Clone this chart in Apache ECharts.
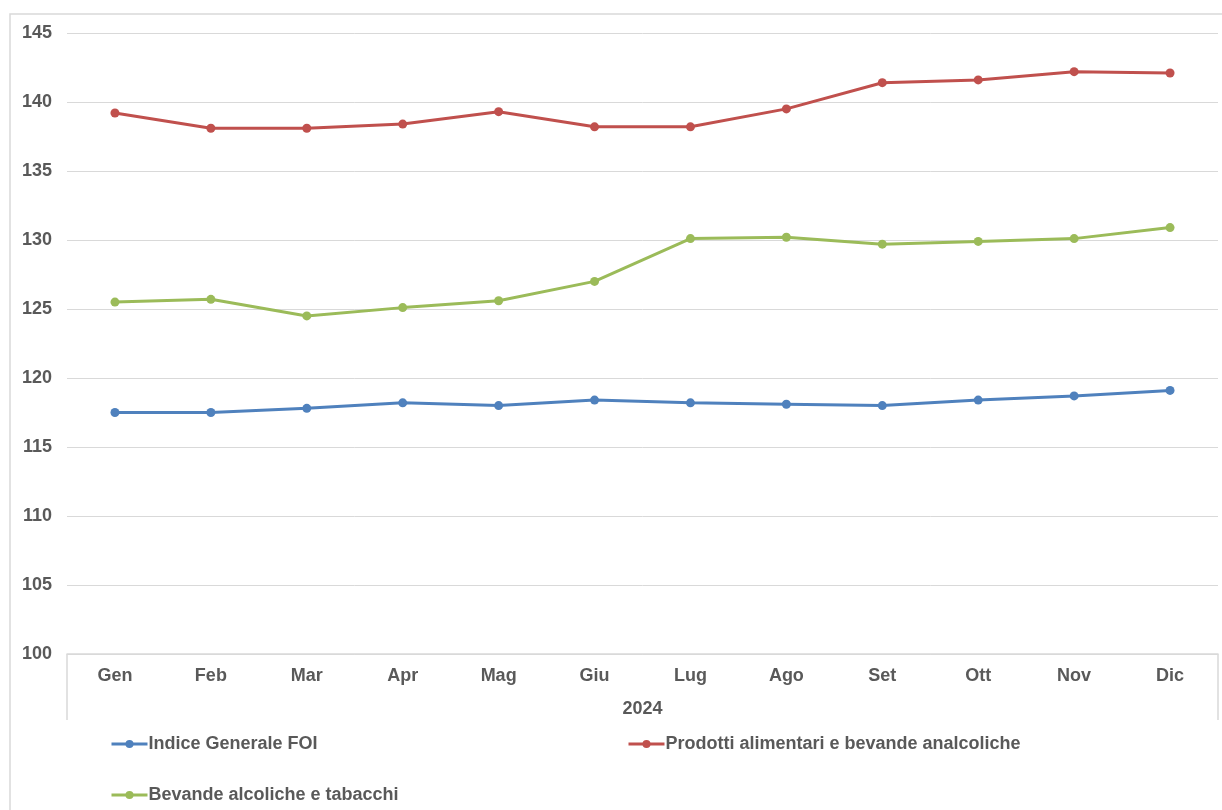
<!DOCTYPE html>
<html>
<head>
<meta charset="utf-8">
<script src="https://cdn.jsdelivr.net/npm/echarts@6/dist/echarts.min.js"></script>
<style>
  html, body { margin: 0; padding: 0; background: #fff; }
  #chart { width: 1222px; height: 810px; }
</style>
</head>
<body>
<div id="chart"></div>
<script>
// Indici FOI 2024 per mese: indice generale e due divisioni di spesa.
const MONTHS = ['Gen', 'Feb', 'Mar', 'Apr', 'Mag', 'Giu', 'Lug', 'Ago', 'Set', 'Ott', 'Nov', 'Dic']
const YEAR = ['2024']
const FOI = [117.5, 117.5, 117.8, 118.2, 118.0, 118.4, 118.2, 118.1, 118.0, 118.4, 118.7, 119.1]
const ALIMENTARI = [139.2, 138.1, 138.1, 138.4, 139.3, 138.2, 138.2, 139.5, 141.4, 141.6, 142.2, 142.1]
const ALCOLICI = [125.5, 125.7, 124.5, 125.1, 125.6, 127.0, 130.1, 130.2, 129.7, 129.9, 130.1, 130.9]
const Y_TICKS = { min: 100, max: 145, step: 5 }

const NAMES = ['Indice Generale FOI', 'Prodotti alimentari e bevande analcoliche', 'Bevande alcoliche e tabacchi']
const COLORS = ['#4f81bd', '#c0504d', '#9bbb59']
const DATA = [FOI, ALIMENTARI, ALCOLICI]
const TXT_COL = '#595959'
const FONT = 'Liberation Sans, Arial, sans-serif'
const GRID_COL = '#d9d9d9'

const chart = echarts.init(document.getElementById('chart'))

const label = extra => Object.assign({ color: TXT_COL, fontFamily: FONT, fontSize: 18, fontWeight: 'bold' }, extra)
const legendAt = (name, left, top) => ({
  data: [name], left, top, itemWidth: 36, itemHeight: 10, itemGap: 2,
  lineStyle: { width: 3 },
  textStyle: label({ padding: [0, 0, 0, -4] })
})

chart.setOption({
  animation: false,
  backgroundColor: '#fff',
  graphic: [{
    type: 'rect', silent: true,
    shape: { x: 10, y: 14, width: 1300, height: 900 },
    style: { fill: 'none', stroke: GRID_COL, lineWidth: 1.5 }
  }],
  grid: { left: 67, right: 4, top: 33, bottom: 156 },
  legend: [
    legendAt(NAMES[0], 105, 730),
    legendAt(NAMES[1], 622, 730),
    legendAt(NAMES[2], 105, 781)
  ],
  xAxis: [
    {
      type: 'category', data: MONTHS, boundaryGap: true,
      axisLine: { lineStyle: { color: GRID_COL, width: 1.5 } },
      axisTick: { show: false },
      axisLabel: label({ margin: 13 })
    },
    {
      type: 'category', data: YEAR, position: 'bottom', boundaryGap: true,
      axisLine: { show: false },
      axisTick: { show: true, length: 66, lineStyle: { color: GRID_COL, width: 1.5 } },
      axisLabel: label({ margin: 46 })
    }
  ],
  yAxis: {
    type: 'value', min: Y_TICKS.min, max: Y_TICKS.max, interval: Y_TICKS.step,
    axisLine: { show: false }, axisTick: { show: false },
    splitLine: { lineStyle: { color: GRID_COL, width: 1 } },
    axisLabel: label({ margin: 15 })
  },
  series: NAMES.map((n, i) => ({
    name: n, type: 'line', xAxisIndex: 0, data: DATA[i],
    symbol: 'circle', symbolSize: 9,
    lineStyle: { color: COLORS[i], width: 3 },
    itemStyle: { color: COLORS[i] }
  }))
})
</script>
</body>
</html>
